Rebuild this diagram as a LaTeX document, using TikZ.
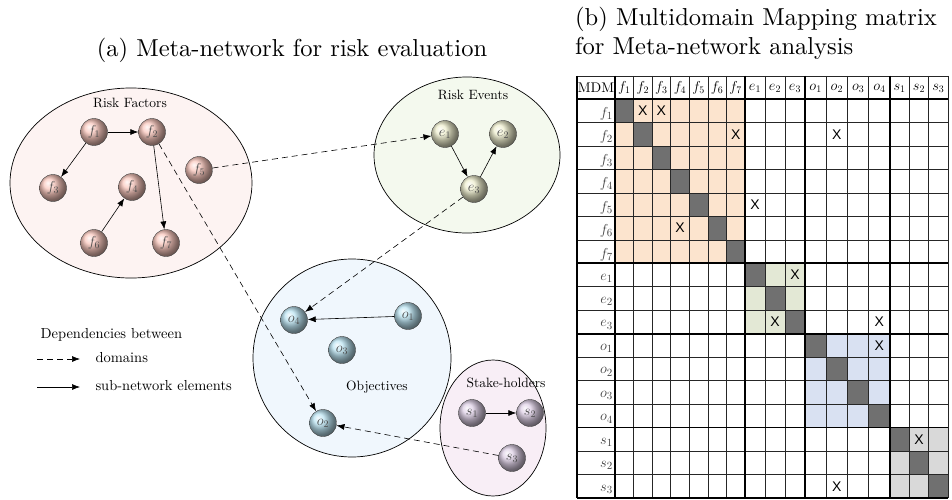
\documentclass[tikz,border=0pt]{standalone}
\usepackage{fontspec}
\setmainfont{lmroman10-regular}[Extension=.otf, ItalicFont=lmroman10-italic, BoldFont=lmroman10-bold]
\newfontfamily\xfont{Liberation Sans}
\usetikzlibrary{calc,positioning,shapes.geometric,arrows.meta}

\definecolor{factorbg}{RGB}{253,243,242}
\definecolor{eventbg}{RGB}{244,249,238}
\definecolor{objectbg}{RGB}{240,247,253}
\definecolor{holderbg}{RGB}{248,238,246}
\definecolor{factorball}{RGB}{250,200,190}
\definecolor{eventball}{RGB}{238,238,206}
\definecolor{objectball}{RGB}{188,228,242}
\definecolor{holderball}{RGB}{222,208,230}
\definecolor{fblock}{RGB}{252,228,206}
\definecolor{eblock}{RGB}{227,232,213}
\definecolor{oblock}{RGB}{217,225,242}
\definecolor{sblock}{RGB}{217,217,217}
\definecolor{diagcell}{RGB}{112,112,112}

\begin{document}
\begin{tikzpicture}[x=1pt, y=-1pt, node distance=58pt, >={Latex[length=8pt,width=6pt]},
    ball/.style={circle, draw=black!75, shading=ball, minimum size=27pt, inner sep=0pt,
        text=black!70, font=\fontsize{14}{14}\selectfont},
    fball/.style={ball, ball color=factorball},
    eball/.style={ball, ball color=eventball},
    oball/.style={ball, ball color=objectball},
    sball/.style={ball, ball color=holderball},
    domainbox/.style={ellipse, draw=black, line width=0.7pt, inner sep=0pt},
    grplabel/.style={font=\fontsize{13.5}{14}\selectfont},
    legendtext/.style={font=\fontsize{14.5}{15}\selectfont},
    link/.style={->, line width=0.6pt},
    dep/.style={->, line width=0.6pt, dash pattern=on 6pt off 4pt},
    titletext/.style={font=\fontsize{24.5}{29}\selectfont, align=left},
    gridline/.style={draw=black!85, line width=0.6pt},
    thickline/.style={draw=black, line width=1.6pt},
    xmark/.style={font=\xfont\fontsize{14}{14}\selectfont, inner sep=0pt},
    hdr/.style={font=\fontsize{14}{14}\selectfont, inner sep=0pt},
    rowlab/.style={font=\fontsize{15}{15}\selectfont, inner sep=0pt, anchor=east, text=black!75}]
    \useasboundingbox (0,0) rectangle (952,500);

    % Titles
    \node[titletext, anchor=base] (titleA) at (292,57) {(a) Meta-network for risk evaluation};
    \node[titletext, anchor=north west, inner sep=0pt] (titleB) at (575,7)
        {(b) Multidomain Mapping matrix\\for Meta-network analysis};

    % Domains
    \node[domainbox, fill=factorbg, minimum width=242pt, minimum height=190pt] (factors) at (131,183) {};
    \node[domainbox, fill=eventbg, minimum width=186pt, minimum height=156pt] (events) at (467,155) {};
    \node[domainbox, fill=objectbg, minimum width=198pt, minimum height=198pt] (objectives) at (352,358) {};
    \node[domainbox, fill=holderbg, minimum width=106pt, minimum height=136pt] (holders) at (493,428) {};
    \node[grplabel] (lfactors) at (130,103) {Risk Factors};
    \node[grplabel] (levents) at (473,95) {Risk Events};
    \node[grplabel] (lobjectives) at (377,387) {Objectives};
    \node[grplabel] (lholders) at (506,383) {Stake-holders};

    % Nodes
    \node[fball] (f1) at (94,132) {$f_1$};
    \node[fball] (f2) [right of=f1] {$f_2$};
    \node[fball] (f3) at (53,188) {$f_3$};
    \node[fball] (f4) at (132,187) {$f_4$};
    \node[fball] (f5) at (199,170) {$f_5$};
    \node[fball] (f6) at (94,243) {$f_6$};
    \node[fball] (f7) at (166,243) {$f_7$};
    \node[eball] (e1) at (445,134) {$e_1$};
    \node[eball] (e2) [right of=e1] {$e_2$};
    \node[eball] (e3) at (474,189) {$e_3$};
    \node[oball] (o1) at (408,316) {$o_1$};
    \node[oball] (o2) at (323,423) {$o_2$};
    \node[oball] (o3) at (342,350) {$o_3$};
    \node[oball] (o4) at (294,320) {$o_4$};
    \node[sball] (s1) at (472,413) {$s_1$};
    \node[sball] (s2) [right of=s1] {$s_2$};
    \node[sball] (s3) at (512,458) {$s_3$};

    % Arrows
    \draw[link] (f1) -- (f2);
    \draw[link] (f1) -- (f3);
    \draw[link] (f2) -- (f7);
    \draw[link] (f6) -- (f4);
    \draw[link] (e1) -- (e3);
    \draw[link] (e3) -- (e2);
    \draw[link] (o1) -- (o4);
    \draw[link] (s1) -- (s2);
    \draw[dep] (f5) -- (e1);
    \draw[dep] (f2) -- (o2);
    \draw[dep] (e3) -- (o4);
    \draw[dep] (s3) -- (o2);

    % Legend
    \node[legendtext, anchor=west] (legend) at (37,335) {Dependencies between};
    \coordinate (dom1) at (37,359);
    \coordinate (dom2) at (80,359);
    \coordinate (sub1) at (37,387);
    \coordinate (sub2) at (80,387);
    \draw[dep] (dom1) -- (dom2);
    \draw[link] (sub1) -- (sub2);
    \node[legendtext, anchor=west] (ldom) at (92,358) {domains};
    \node[legendtext, anchor=west] (lsub) at (92,386) {sub-network elements};

    % Matrix
    \foreach \x [count=\k from 0] in {615,633.6,652.1,670.7,689.3,707.9,726.4,745,765,785,805,826.25,847.5,868.75,890,909.3,928.7,948}
        \coordinate (v\k) at (\x,76);
    \foreach \k in {0,...,17}
        \coordinate (h\k) at (577,{99+23.47*\k});
    \fill[fblock] (v0|-h0) rectangle (v7|-h7);
    \fill[eblock] (v7|-h7) rectangle (v10|-h10);
    \fill[oblock] (v10|-h10) rectangle (v14|-h14);
    \fill[sblock] (v14|-h14) rectangle (v17|-h17);
    \foreach \k [count=\j from 0] in {1,...,17}
        \fill[diagcell] (v\j|-h\j) rectangle (v\k|-h\k);
    \foreach \k in {0,...,17} {
        \draw[gridline] (v\k) -- (v\k|-h17);
        \draw[gridline] (h\k) -- (h\k-|v17);
    }
    \draw[gridline] (577,76) -- (v17);
    \draw[thickline] (577,76) -- (577,498);
    \foreach \k in {0,7,10,14} {
        \draw[thickline] (v\k) -- (v\k|-h17);
        \draw[thickline] (h\k) -- (h\k-|v17);
    }
    \draw[thickline] (h17) -- (h17-|v17);
    \node[hdr] (mdm) at (596,88) {MDM};
    \foreach \lab [count=\k] in {f_1,f_2,f_3,f_4,f_5,f_6,f_7,e_1,e_2,e_3,o_1,o_2,o_3,o_4,s_1,s_2,s_3} {
        \pgfmathtruncatemacro\j{\k-1}
        \node[hdr] (c\k) at ($(v\j)!.5!(v\k)+(0,12)$) {$\lab$};
        \node[rowlab] (r\k) at ($(h\j)!.5!(h\k)+(36,3)$) {$\lab$};
    }
    \foreach \r/\c [count=\n] in {1/2,1/3,2/7,2/12,5/8,6/4,8/10,10/9,10/14,11/14,15/16,17/12} {
        \pgfmathtruncatemacro\rr{\r-1}
        \pgfmathtruncatemacro\cc{\c-1}
        \node[xmark] (x\n) at ($(v\cc|-h\rr)!.5!(v\c|-h\r)$) {X};
    }
\end{tikzpicture}
\end{document}
